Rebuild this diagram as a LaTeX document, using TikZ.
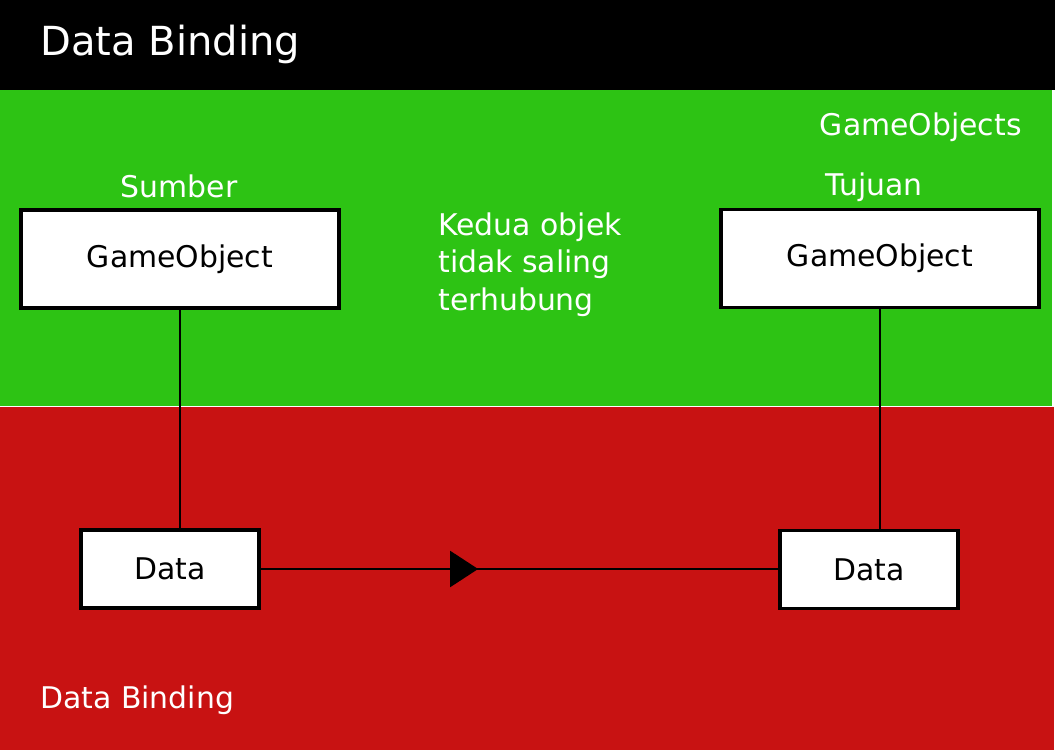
\documentclass[tikz,border=0pt]{standalone}
\usepackage{fontspec}
\setmainfont{DejaVu Sans}
\usepackage{tikz}
\usetikzlibrary{arrows.meta,decorations.markings,positioning}
\definecolor{goGreen}{RGB}{45,195,20}
\definecolor{dbRed}{RGB}{200,18,18}
\tikzset{
  box/.style={draw=black,line width=2.1pt,fill=white,text=black,inner sep=0pt,font=\fontsize{17}{20}\selectfont},
  txt/.style={text=white,inner sep=0pt,font=\fontsize{17}{21.6}\selectfont},
  conn/.style={draw=black,line width=1.1pt},
  midarrow/.style={postaction={decorate},decoration={markings,mark=at position #1 with {\arrow{Triangle[length=15.9pt,width=20.5pt]}}}}
}

\begin{document}
\begin{tikzpicture}[x=0.02cm,y=-0.02cm]
\useasboundingbox (0,0) rectangle (1055,750);
\fill[white] (0,0) rectangle (1055,750);
\fill[black] (0,0) rectangle (1055,90);
\fill[goGreen] (0,90) rectangle (1052,406);
\fill[dbRed] (0,407) rectangle (1054,750);
\node[txt,anchor=base west,font=\fontsize{22.8}{26}\selectfont] (title) at (40,56) {Data Binding};
\node[txt,anchor=base east] (objLabel) at (1022,135) {GameObjects};
\node[txt,anchor=base west] (bindLabel) at (40,708) {Data Binding};
\node[box,minimum width=6.36cm,minimum height=1.96cm] (srcObj) at (180,259) {GameObject};
\node[box,minimum width=6.36cm,minimum height=1.96cm] (dstObj) at (880,258.5) {GameObject};
\node[box,minimum width=3.56cm,minimum height=1.56cm] (srcData) at (170,569) {Data};
\node[box,minimum width=3.56cm,minimum height=1.56cm] (dstData) at (869,569.5) {Data};
\node[txt,anchor=base] (srcLabel) at (179,197) {Sumber};
\node[txt,anchor=base] (dstLabel) at (874,195) {Tujuan};
\node[txt,anchor=north west,align=left] (note) at (438,212) {Kedua objek\\tidak saling\\terhubung};
\draw[conn] (srcObj.south) -- (srcObj.south |- srcData.north);
\draw[conn] (dstObj.south) -- (dstObj.south |- dstData.north);
\draw[conn,midarrow=0.42] (srcData.east) -- (srcData.east -| dstData.west);
\end{tikzpicture}
\end{document}
